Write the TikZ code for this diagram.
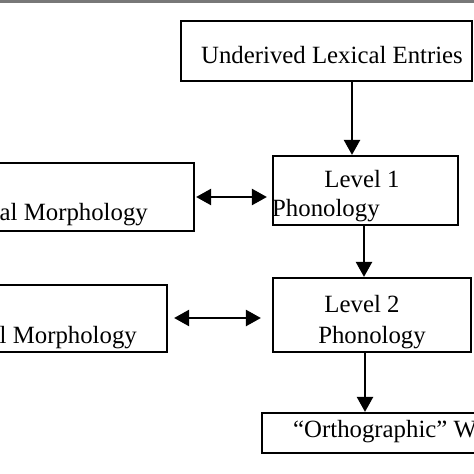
\documentclass[tikz,border=0pt]{standalone}
\usepackage{fontspec}
\setmainfont{Liberation Serif}
\usetikzlibrary{arrows.meta,calc}
\definecolor{bar}{gray}{0.47}
\begin{document}
\begin{tikzpicture}[x=1pt,y=-1pt,
  box/.style={draw=black,line width=2.2pt,rectangle,inner sep=0pt},
  lbl/.style={inner sep=0pt,font=\fontsize{24.8}{28}\selectfont},
  arr/.style={line width=2.4pt,-{Triangle[length=15pt,width=16pt]}},
  darr/.style={line width=2.4pt,{Triangle[length=15pt,width=16pt]}-{Triangle[length=15pt,width=16pt]}}]
\useasboundingbox (0,0) rectangle (474,474);
\clip (0,0) rectangle (474,474);
\fill[bar] (0,0) rectangle (474,2.8);
\fill[white] (0,2.8) rectangle (474,474);
% boxes
\node[box,minimum width=291pt,minimum height=60pt] (top) at (326.5,51) {};
\node[box,minimum width=185pt,minimum height=69pt] (lone) at (365.5,190.5) {};
\node[box,minimum width=204pt,minimum height=68pt] (mone) at (92,197) {};
\node[box,minimum width=198pt,minimum height=74pt] (ltwo) at (372,315) {};
\node[box,minimum width=177pt,minimum height=67pt] (mtwo) at (78.5,318.5) {};
\node[box,minimum width=228pt,minimum height=40pt] (orth) at (376,433) {};
% texts
\node[lbl,anchor=base] (ttop) at (332,63) {Underived Lexical Entries};
\node[lbl,anchor=base] (tlone) at (362,187) {Level 1};
\node[lbl,anchor=base west] (tlonep) at (272,216) {Phonology};
\node[lbl,anchor=base east] (tmone) at (148,220) {al Morphology};
\node[lbl,anchor=base] (tltwo) at (362,312) {Level 2};
\node[lbl,anchor=base] (tltwop) at (372,343) {Phonology};
\node[lbl,anchor=base east] (tmtwo) at (137,343) {l Morphology};
\node[lbl,anchor=base west] (torth) at (293,437) {“Orthographic” W};
% connectors
\draw[arr] ($(top.south)+(25.5,0)$) -- ($(lone.north)+(-13.5,0)$);
\draw[arr] ($(lone.south)+(-1.5,0)$) -- ($(ltwo.north)+(-8,0)$);
\draw[arr] ($(ltwo.south)+(-7,0)$) -- ($(orth.north)+(-11,0)$);
\draw[darr,shorten <=1pt,shorten >=5pt] (mone.east) -- ($(lone.west)+(0,6.5)$);
\draw[darr,shorten <=6pt,shorten >=11pt] ($(mtwo.east)+(0,-0.5)$) -- ($(ltwo.west)+(0,3)$);
\end{tikzpicture}
\end{document}
